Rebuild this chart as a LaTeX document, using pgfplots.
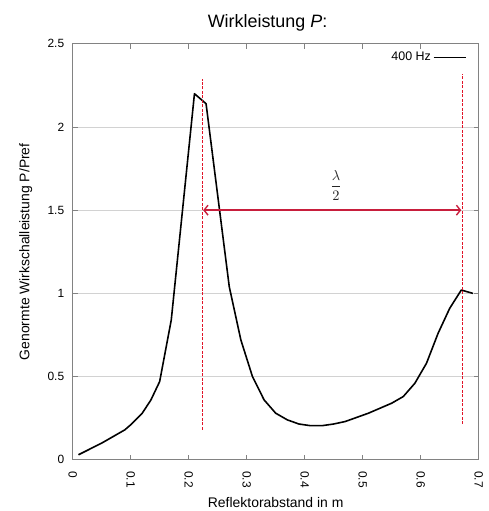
\documentclass[border=0pt]{standalone}
\usepackage{fontspec}
\setmainfont{Liberation Sans}
\usepackage{graphicx}
\usepackage{pgfplots}
\pgfplotsset{compat=1.18}
\usetikzlibrary{arrows.meta}

\definecolor{arrowred}{RGB}{200,30,60}
\definecolor{dashred}{RGB}{225,20,40}
\definecolor{axisgray}{RGB}{130,130,130}

\pgfplotstableread{
x     y
0.01  0.03
0.03  0.065
0.05  0.10
0.07  0.14
0.09  0.18
0.10  0.21
0.12  0.28
0.135 0.36
0.15  0.47
0.17  0.84
0.21  2.20
0.23  2.14
0.27  1.04
0.29  0.72
0.31  0.50
0.33  0.36
0.35  0.28
0.37  0.24
0.39  0.215
0.41  0.205
0.43  0.205
0.45  0.215
0.47  0.23
0.49  0.255
0.51  0.28
0.53  0.31
0.55  0.34
0.57  0.38
0.59  0.46
0.61  0.58
0.63  0.76
0.65  0.91
0.67  1.02
0.69  1.00
}\datatable

\begin{document}
\begin{tikzpicture}
\begin{axis}[
    name=ax,
    scale only axis,
    width=408pt, height=418pt,
    xmin=0, xmax=0.7, ymin=0, ymax=2.5,
    xtick={0,0.1,...,0.7},
    ytick={0,0.5,1,1.5,2,2.5},
    xticklabels={0,0.1,0.2,0.3,0.4,0.5,0.6,0.7},
    yticklabels={0,0.5,1,1.5,2,2.5},
    tick align=inside,
    major tick length=5pt,
    tick style={axisgray, line width=0.6pt},
    axis line style={axisgray, line width=0.8pt},
    ymajorgrids,
    grid style={gray!35, line width=0.6pt},
    tick label style={font=\fontsize{12}{14}\selectfont},
    xticklabel style={rotate=-90, anchor=west, xshift=8pt},
    yticklabel style={xshift=-5pt},
    /pgf/number format/assume math mode=true,
    xlabel={Reflektorabstand in m},
    ylabel={Genormte Wirkschalleistung P/Pref},
    every axis x label/.style={at={(axis description cs:0.5,0)}, yshift=-43pt, anchor=center,
        font=\fontsize{14}{16}\selectfont},
    every axis y label/.style={at={(axis description cs:0,0.5)}, xshift=-47pt, rotate=90, anchor=center,
        font=\fontsize{14}{16}\selectfont},
    title={Wirkleistung \textit{P}:},
    title style={font=\fontsize{18}{20}\selectfont, at={(axis description cs:0.48,1)}, yshift=10pt, anchor=base},
    legend style={draw=none, fill=none, at={(axis description cs:0.97,0.985)}, anchor=north east,
                  font=\fontsize{12.5}{14}\selectfont, inner sep=0pt},
    legend plot pos=right,
    legend cell align=right,
    legend image code/.code={\draw[#1, line width=1.6pt] (5pt,0pt) -- (37pt,0pt);},
]
\addplot[black, line width=1.6pt, line join=round] table[x=x, y=y] {\datatable};
\addlegendentry{400 Hz}

\addplot[dashred, dash pattern=on 3pt off 1.5pt, line width=1pt, forget plot] coordinates {(0.2235,0.18) (0.2235,2.29)};
\addplot[dashred, dash pattern=on 3pt off 1.5pt, line width=1pt, forget plot] coordinates {(0.672,0.215) (0.672,2.32)};
\addplot[arrowred, line width=1.4pt, {Straight Barb[length=4pt,width=10pt]}-{Straight Barb[length=4pt,width=10pt]}, forget plot]
    coordinates {(0.225,1.5) (0.670,1.5)};
\node[text=black!85] at (axis cs:0.454,1.65) {\scalebox{1.45}{$\displaystyle\frac{\lambda}{2}$}};
\end{axis}
\path (ax.south west) ++(-73pt,-49pt) coordinate (bl);
\path (ax.north east) ++(10pt,44pt) coordinate (tr);
\useasboundingbox (bl) rectangle (tr);
\end{tikzpicture}
\end{document}
